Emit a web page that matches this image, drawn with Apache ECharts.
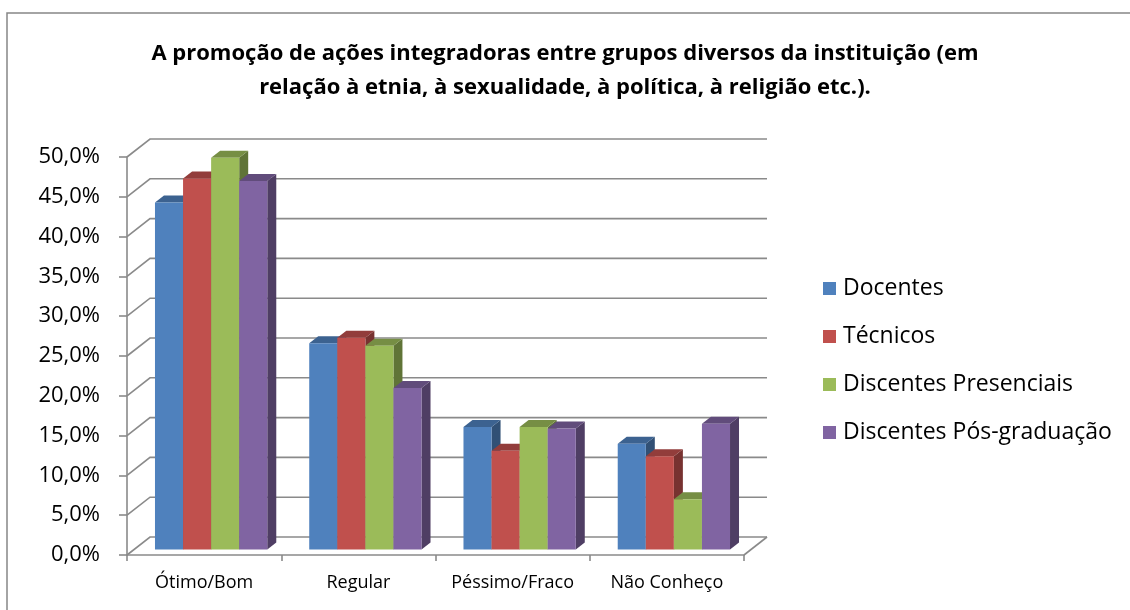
<!DOCTYPE html>
<html>
<head>
<meta charset="utf-8">
<script src="https://cdn.jsdelivr.net/npm/echarts@6/dist/echarts.min.js"></script>
<style>
html, body { margin: 0; padding: 0; background: #fff; }
#chart { width: 1130px; height: 610px; }
</style>
</head>
<body>
<div id="chart"></div>
<script>
var categorias = ['Ótimo/Bom', 'Regular', 'Péssimo/Fraco', 'Não Conheço'];
var grupos = ['Docentes', 'Técnicos', 'Discentes Presenciais', 'Discentes Pós-graduação'];
var docentes = [43.6, 25.9, 15.4, 13.3];
var tecnicos = [46.6, 26.6, 12.4, 11.7];
var presenciais = [49.2, 25.6, 15.4, 6.3];
var posGraduacao = [46.3, 20.3, 15.2, 15.8];
var yTicks = [0, 5, 10, 15, 20, 25, 30, 35, 40, 45, 50];
var cores = ['#4F81BD', '#C0504D', '#9BBB59', '#8064A2'];

// profundidade do "3D" (pixels)
var PAREDE_DX = 23, PAREDE_DY = -18;
var BARRA_OX = 7, BARRA_OY = -5.5;
var BARRA_DX = 9, BARRA_DY = -7;

function escurece(hex, f) {
    var n = parseInt(hex.slice(1), 16);
    var r = Math.round(((n >> 16) & 255) * f);
    var g = Math.round(((n >> 8) & 255) * f);
    var b = Math.round((n & 255) * f);
    return 'rgb(' + r + ',' + g + ',' + b + ')';
}

function barra3d(s) {
    return function (params, api) {
        var i = api.value(0), v = api.value(1);
        var base = api.coord([i, 0]);
        var topo = api.coord([i, v]);
        var cw = api.size([1, 0])[0];
        var bw = cw * 0.182;
        var x0 = base[0] - 2 * bw + s * bw + BARRA_OX;
        var yb = base[1] + BARRA_OY;
        var yt = topo[1] + BARRA_OY;
        var cor = cores[s];
        return {
            type: 'group',
            children: [
                {
                    type: 'polygon',
                    shape: { points: [[x0 + bw, yt], [x0 + bw + BARRA_DX, yt + BARRA_DY], [x0 + bw + BARRA_DX, yb + BARRA_DY], [x0 + bw, yb]] },
                    style: { fill: escurece(cor, 0.62) }
                },
                {
                    type: 'polygon',
                    shape: { points: [[x0, yt], [x0 + bw, yt], [x0 + bw + BARRA_DX, yt + BARRA_DY], [x0 + BARRA_DX, yt + BARRA_DY]] },
                    style: { fill: escurece(cor, 0.76) }
                },
                {
                    type: 'rect',
                    shape: { x: x0, y: yt, width: bw, height: yb - yt },
                    style: { fill: cor }
                }
            ]
        };
    };
}

function moldura(params, api) {
    var t = api.value(1);
    var y = api.coord([0, t])[1];
    var esq = params.coordSys.x;
    var dir = params.coordSys.x + params.coordSys.width;
    var filhos = [{
        type: 'polyline',
        shape: { points: [[esq, y], [esq + PAREDE_DX, y + PAREDE_DY], [dir + PAREDE_DX, y + PAREDE_DY]] },
        style: { stroke: '#8a8a8a', lineWidth: 1.6, fill: null }
    }];
    if (t === 0) {
        filhos.push({
            type: 'line',
            shape: { x1: dir, y1: y, x2: dir + PAREDE_DX, y2: y + PAREDE_DY },
            style: { stroke: '#8a8a8a', lineWidth: 1.6 }
        });
    }
    return { type: 'group', children: filhos };
}

var valores = [docentes, tecnicos, presenciais, posGraduacao];
var series = [{
    name: 'moldura',
    type: 'custom',
    renderItem: moldura,
    data: yTicks.map(function (t) { return [0, t]; }),
    encode: { x: 0, y: 1 },
    clip: false,
    silent: true,
    z: 1
}];
for (var s = 0; s < grupos.length; s++) {
    series.push({
        name: grupos[s],
        type: 'custom',
        renderItem: barra3d(s),
        data: valores[s].map(function (v, i) { return [i, v]; }),
        encode: { x: 0, y: 1 },
        itemStyle: { color: cores[s] },
        clip: false,
        z: 2
    });
}

var chart = echarts.init(document.getElementById('chart'));
var option = {
    backgroundColor: '#fff',
    animation: false,
    title: {
        text: 'A promoção de ações integradoras entre grupos diversos da instituição (em\nrelação à etnia, à sexualidade, à política, à religião etc.).',
        left: 'center',
        top: 32,
        padding: [5, 5, 5, 17],
        textStyle: {
            fontFamily: 'Open Sans',
            fontWeight: 'bold',
            fontSize: 22,
            lineHeight: 34,
            color: '#000'
        }
    },
    legend: {
        data: grupos,
        orient: 'vertical',
        left: 823,
        top: 277,
        padding: 0,
        icon: 'rect',
        itemWidth: 13,
        itemHeight: 13,
        itemGap: 25,
        textStyle: { fontFamily: 'Open Sans', fontSize: 23, color: '#000', padding: [0, 0, 0, 2] }
    },
    graphic: [{
        type: 'rect',
        shape: { x: 7, y: 13, width: 1300, height: 800 },
        style: { fill: null, stroke: '#868686', lineWidth: 1.5 },
        silent: true
    }],
    grid: { left: 127, right: 386, top: 157, bottom: 55 },
    xAxis: {
        type: 'category',
        data: categorias,
        axisLine: { lineStyle: { color: '#8a8a8a', width: 1.6 } },
        axisTick: { show: true, length: 6, lineStyle: { color: '#8a8a8a', width: 1.6 } },
        axisLabel: { interval: 0, fontFamily: 'Open Sans', fontSize: 18, color: '#000', margin: 19 },
        splitLine: { show: false }
    },
    yAxis: {
        type: 'value',
        min: 0,
        max: 50,
        interval: 5,
        axisLine: { show: true, lineStyle: { color: '#8a8a8a', width: 1.6 } },
        axisTick: { show: true, length: 8, lineStyle: { color: '#8a8a8a', width: 1.6 } },
        axisLabel: {
            fontFamily: 'Open Sans',
            fontSize: 22,
            color: '#000',
            margin: 27,
            formatter: function (v) { return v.toFixed(1).replace('.', ',') + '%'; }
        },
        splitLine: { show: false }
    },
    series: series
};
chart.setOption(option);
</script>
</body>
</html>
